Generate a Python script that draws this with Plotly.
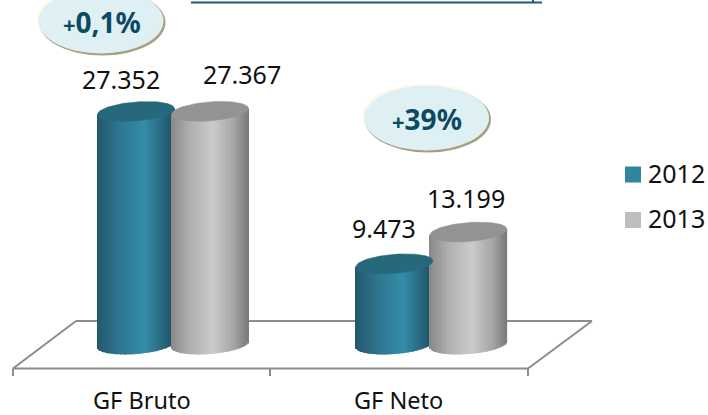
import numpy as np
import plotly.graph_objects as go

categories = ["GF Bruto", "GF Neto"]
series_names = ["2012", "2013"]
series_colors = ["#31859F", "#BDBDBD"]
values_2012 = [27352, 9473]
values_2013 = [27367, 13199]
badges = ["+0,1%", "+39%"]

W, H = 708, 415
X0 = 141.5          # px of category 0
PX_PER_CAT = 257.0
Y0 = 344.5          # px of value 0
PX_PER_VAL = 0.00852


def px_x(p):
    return (p - X0) / PX_PER_CAT


def px_dy(p):
    return p / PX_PER_VAL


def paper_x(p):
    return p / W


def paper_y(p):
    return 1 - p / H


def hexmix(a, b, t):
    return "rgb(%d,%d,%d)" % tuple(round(a[i] + (b[i] - a[i]) * t) for i in range(3))


def ramp(stops, t):
    for (t0, c0), (t1, c1) in zip(stops, stops[1:]):
        if t <= t1:
            return hexmix(c0, c1, (t - t0) / (t1 - t0))
    return hexmix(stops[-1][1], stops[-1][1], 0)


TEAL = [(0, (36, 88, 108)), (0.3, (46, 118, 143)), (0.62, (52, 140, 168)), (0.85, (40, 104, 128)), (1, (30, 80, 98))]
GRAY = [(0, (136, 136, 136)), (0.25, (176, 176, 176)), (0.55, (203, 203, 203)), (0.82, (165, 165, 165)), (1, (122, 122, 122))]

RX = 38.5
RY = 9.5
SLOPE = 0.075
N = 60


def cylinder(vals, offset_px, stops, top_color):
    xs, bases, heights, cols = [], [], [], []
    topx, topy = [], []
    for c, v in enumerate(vals):
        cx = px_x(X0 + PX_PER_CAT * c) + offset_px[c] / PX_PER_CAT
        for i in range(N):
            t = (i + 0.5) / N
            u = 2 * t - 1
            dx = u * RX
            arc = RY * np.sqrt(1 - u * u)
            lift = SLOPE * dx
            base = px_dy(lift - arc)
            xs.append(cx + dx / PX_PER_CAT)
            bases.append(base)
            heights.append(v + px_dy(lift) - base)
            cols.append(ramp(stops, t))
        th = np.linspace(0, 2 * np.pi, 81)
        ex = RX * np.cos(th)
        ey = RY * np.sin(th) + SLOPE * ex
        topx += list(cx + ex / PX_PER_CAT) + [None]
        topy += list(v + ey / PX_PER_VAL) + [None]
    body = go.Bar(x=xs, y=heights, base=bases, width=(2 * RX) / N / PX_PER_CAT * 1.25,
                  marker=dict(color=cols, line=dict(width=0)), showlegend=False, hoverinfo="skip")
    top = go.Scatter(x=topx, y=topy, mode="lines", fill="toself", fillcolor=top_color,
                     line=dict(color=top_color, width=0.5), showlegend=False, hoverinfo="skip")
    return body, top


body_a, top_a = cylinder(values_2012, [-5.5, -4.0], TEAL, "#27697C")
body_b, top_b = cylinder(values_2013, [68.5, 70.0], GRAY, "#939393")

fig = go.Figure([body_a, body_b, top_b, top_a])

FONT = "Noto Sans"

fmt = lambda v: f"{v:,}".replace(",", ".")
label_px = [(-20.5, -32), (100.5, -37), (-14.5, -36), (67.5, -34)]
label_vals = [values_2012[0], values_2013[0], values_2012[1], values_2013[1]]
label_cat = [0, 0, 1, 1]
for v, c, (ox, oy) in zip(label_vals, label_cat, label_px):
    fig.add_annotation(x=c + ox / PX_PER_CAT, y=v - oy / PX_PER_VAL, text=fmt(v), showarrow=False,
                       font=dict(family=FONT, size=25, color="#111111"), xanchor="center", yanchor="middle")

line_col = "#8C8C8C"
floor = [((13, 368.5), (528, 368.5)), ((13, 368.5), (76, 321)), ((76, 321), (592, 321)),
         ((528, 368.5), (592, 321)), ((13, 368.5), (13, 376)), ((270, 368.5), (270, 376)),
         ((528, 368.5), (528, 376))]
shapes = []
for (a, b) in floor:
    shapes.append(dict(type="line", xref="paper", yref="paper", x0=paper_x(a[0]), y0=paper_y(a[1]),
                       x1=paper_x(b[0]), y1=paper_y(b[1]), line=dict(color=line_col, width=2), layer="below"))

# header rule
shapes.append(dict(type="line", xref="paper", yref="paper", x0=paper_x(191), y0=paper_y(2.5),
                   x1=paper_x(542), y1=paper_y(2.5), line=dict(color="#1D5C75", width=2)))
shapes.append(dict(type="line", xref="paper", yref="paper", x0=paper_x(533), y0=paper_y(3),
                   x1=paper_x(533), y1=paper_y(0), line=dict(color="#1D5C75", width=2)))


def oval(cx, cy, rx, ry, col):
    return dict(type="circle", xref="paper", yref="paper", x0=paper_x(cx - rx), x1=paper_x(cx + rx),
                y0=paper_y(cy - ry), y1=paper_y(cy + ry), fillcolor=col, line=dict(width=0))


for (cx, cy), txt in zip([(101, 21), (426.5, 118)], badges):
    shapes.append(oval(cx - 1.5, cy - 1.5, 63, 33, "#FEFCE3"))
    shapes.append(oval(cx + 1.5, cy + 1.5, 63, 33, "#A5A07E"))
    shapes.append(oval(cx, cy, 62.5, 32.5, "#DFF0F5"))
    sign, rest = txt[0], txt[1:]
    fig.add_annotation(xref="paper", yref="paper", x=paper_x(cx + 1), y=paper_y(cy + 1),
                       xanchor="center", yanchor="middle",
                       text=f'<span style="font-size:22px">{sign}</span>{rest}', showarrow=False,
                       font=dict(family=FONT, size=28, color="#0B4A60", weight="bold"))

# legend
for name, col, ly in zip(series_names, series_colors, [174.5, 220]):
    shapes.append(dict(type="rect", xref="paper", yref="paper", x0=paper_x(625), x1=paper_x(641),
                       y0=paper_y(ly - 8), y1=paper_y(ly + 8), fillcolor=col, line=dict(width=0)))
    fig.add_annotation(xref="paper", yref="paper", x=paper_x(648), y=paper_y(ly - 2), text=name,
                       showarrow=False, xanchor="left", yanchor="middle", xshift=-2,
                       font=dict(family=FONT, size=25, color="#111111"))

fig.update_layout(
    width=W, height=H, margin=dict(l=0, r=0, t=0, b=0), autosize=False,
    paper_bgcolor="white", plot_bgcolor="rgba(0,0,0,0)", barmode="overlay", shapes=shapes,
    font=dict(family=FONT, color="#111111", size=25),
    xaxis=dict(range=[px_x(0), px_x(W)], showgrid=False, zeroline=False, visible=False, fixedrange=True),
    yaxis=dict(range=[px_dy(Y0 - H), px_dy(Y0)], visible=False, fixedrange=True),
    showlegend=False,
)
for c, name in enumerate(categories):
    fig.add_annotation(x=c, y=px_dy(Y0 - 399.5), text=name, showarrow=False,
                       xanchor="center", yanchor="middle",
                       font=dict(family=FONT, size=23.5, color="#111111"))

fig.write_html("out.html", config=dict(displayModeBar=False),
               post_script="document.body.style.margin='0';document.documentElement.style.overflow='hidden';")
